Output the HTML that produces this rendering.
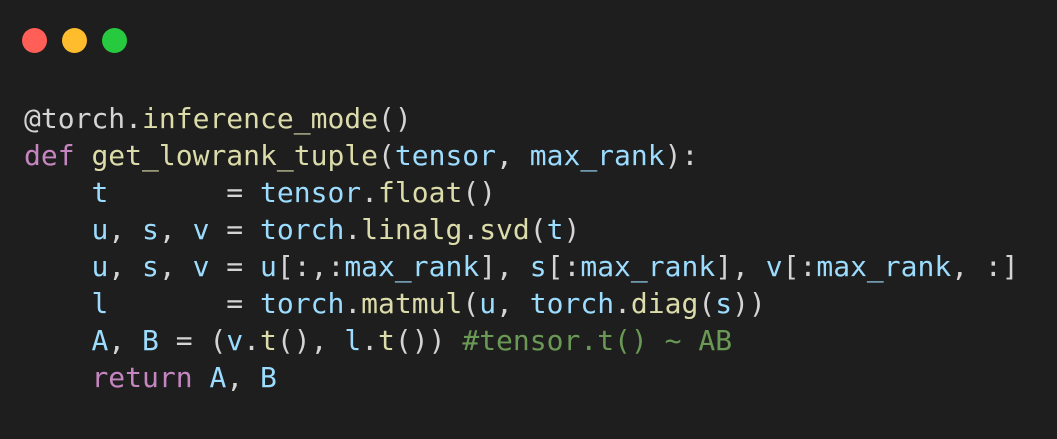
<!DOCTYPE html>
<html><head><meta charset="utf-8"><style>
html,body{margin:0;padding:0;background:#1e1e1e;width:1057px;height:439px;overflow:hidden}
.d{position:absolute;top:27.5px;width:25px;height:25px;border-radius:50%}
pre{position:absolute;left:24px;top:100px;margin:0;font-family:"DejaVu Sans Mono","Liberation Mono",monospace;font-size:28px;line-height:37px;color:#d4d4d4}
.f{color:#dcdcaa}.k{color:#c586c0}.v{color:#9cdcfe}.c{color:#6a9955}
</style></head><body>
<div class="d" style="left:21.5px;background:#ff5f56"></div>
<div class="d" style="left:61.5px;background:#ffbd2e"></div>
<div class="d" style="left:101.5px;background:#27c93f"></div>
<pre>@torch.<span class="f">inference_mode</span>()
<span class="k">def</span> <span class="f">get_lowrank_tuple</span>(<span class="v">tensor</span>, <span class="v">max_rank</span>):
    <span class="v">t</span>       = <span class="v">tensor</span>.<span class="f">float</span>()
    <span class="v">u</span>, <span class="v">s</span>, <span class="v">v</span> = <span class="v">torch</span>.<span class="f">linalg</span>.<span class="f">svd</span>(<span class="v">t</span>)
    <span class="v">u</span>, <span class="v">s</span>, <span class="v">v</span> = <span class="v">u</span>[:,:<span class="v">max_rank</span>], <span class="v">s</span>[:<span class="v">max_rank</span>], <span class="v">v</span>[:<span class="v">max_rank</span>, :]
    <span class="v">l</span>       = <span class="v">torch</span>.<span class="f">matmul</span>(<span class="v">u</span>, <span class="v">torch</span>.<span class="f">diag</span>(<span class="v">s</span>))
    <span class="v">A</span>, <span class="v">B</span> = (<span class="v">v</span>.<span class="f">t</span>(), <span class="v">l</span>.<span class="f">t</span>()) <span class="c">#tensor.t() ~ AB</span>
    <span class="k">return</span> <span class="v">A</span>, <span class="v">B</span></pre>
</body></html>
